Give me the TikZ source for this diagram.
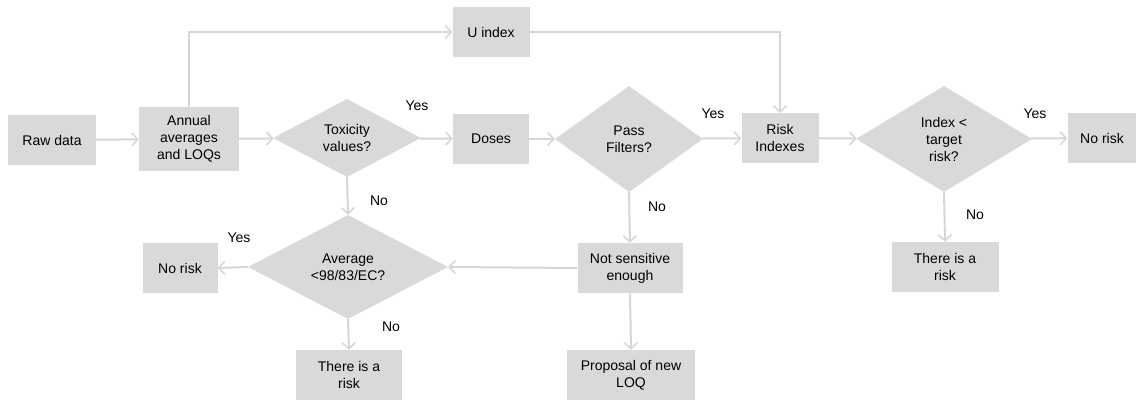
\documentclass[tikz,border=0pt]{standalone}
\usepackage{fontspec}
\setmainfont{Liberation Sans}
\usetikzlibrary{shapes.geometric,arrows.meta}
\definecolor{boxgray}{RGB}{217,217,217}
\definecolor{linegray}{RGB}{214,214,214}

\begin{document}
\begin{tikzpicture}[x=1pt, y=-1pt,
      every node/.style = {align=center, font=\fontsize{14}{17}\selectfont},
      box/.style = {shape=rectangle, fill=boxgray, inner sep=0pt,
        minimum height=50pt},
      decision/.style = {shape=diamond, fill=boxgray, inner sep=0pt},
      answer/.style = {inner sep=1pt},
      flow/.style = {draw=linegray, line width=2pt,
        -{Straight Barb[length=6pt, width=13pt, line width=1.6pt]}}]
    \useasboundingbox (0,0) rectangle (1136,401);
    % main row
    \node[box, minimum width=88pt] (raw) at (52,140) {Raw data};
    \node[box, minimum width=100pt, minimum height=64pt] (annual) at (189,139) {Annual\\averages\\and LOQs};
    \node[decision, minimum width=148pt, minimum height=78pt] (tox) at (347,138) {Toxicity\\values?};
    \node[box, minimum width=76pt] (doses) at (491,139) {Doses};
    \node[decision, minimum width=148pt, minimum height=106pt] (pass) at (629,139) {Pass\\Filters?};
    \node[box, minimum width=77pt] (risk) at (780,138) {Risk\\Indexes};
    \node[decision, minimum width=176pt, minimum height=106pt] (index) at (944,139) {Index <\\target\\risk?};
    \node[box, minimum width=69pt] (norisk) at (1102,138) {No risk};
    \node[box, minimum width=77pt] (uidx) at (491,32) {U index};
    % lower branches
    \node[decision, minimum width=200pt, minimum height=104pt] (avg) at (348,267) {Average\\<98/83/EC?};
    \node[box, minimum width=75pt] (noriskleft) at (180,268) {No risk};
    \node[box, minimum width=106pt] (riskleft) at (349,375) {There is a\\risk};
    \node[box, minimum width=105pt] (notsens) at (630,268) {Not sensitive\\enough};
    \node[box, minimum width=128pt] (proposal) at (631,375) {Proposal of new\\LOQ};
    \node[box, minimum width=107pt] (riskright) at (945,267) {There is a\\risk};
    % answers
    \node[answer] (toxyes) at (417,106) {Yes};
    \node[answer] (toxno) at (379,201) {No};
    \node[answer] (passyes) at (713,114) {Yes};
    \node[answer] (passno) at (657,207) {No};
    \node[answer] (indexyes) at (1035,114) {Yes};
    \node[answer] (indexno) at (975,215) {No};
    \node[answer] (avgyes) at (239,238) {Yes};
    \node[answer] (avgno) at (391,327) {No};
    % connectors
    \draw[flow] (raw) -- (annual);
    \draw[flow] (annual) -- (tox);
    \draw[flow] (annual.north) |- (uidx.west);
    \draw[flow] (uidx.east) -| (risk.north);
    \draw[flow] (tox) -- (doses);
    \draw[flow] (doses) -- (pass);
    \draw[flow] (pass) -- (risk);
    \draw[flow] (risk) -- (index);
    \draw[flow] (index) -- (norisk);
    \draw[flow] (tox.south) -- (avg.north);
    \draw[flow] (pass.south) -- (notsens.north);
    \draw[flow] (index.south) -- (riskright.north);
    \draw[flow] (notsens.west) -- (avg.east);
    \draw[flow] (notsens.south) -- (proposal.north);
    \draw[flow] (avg.west) -- (noriskleft.east);
    \draw[flow] (avg.south) -- (riskleft.north);
  \end{tikzpicture}
\end{document}
